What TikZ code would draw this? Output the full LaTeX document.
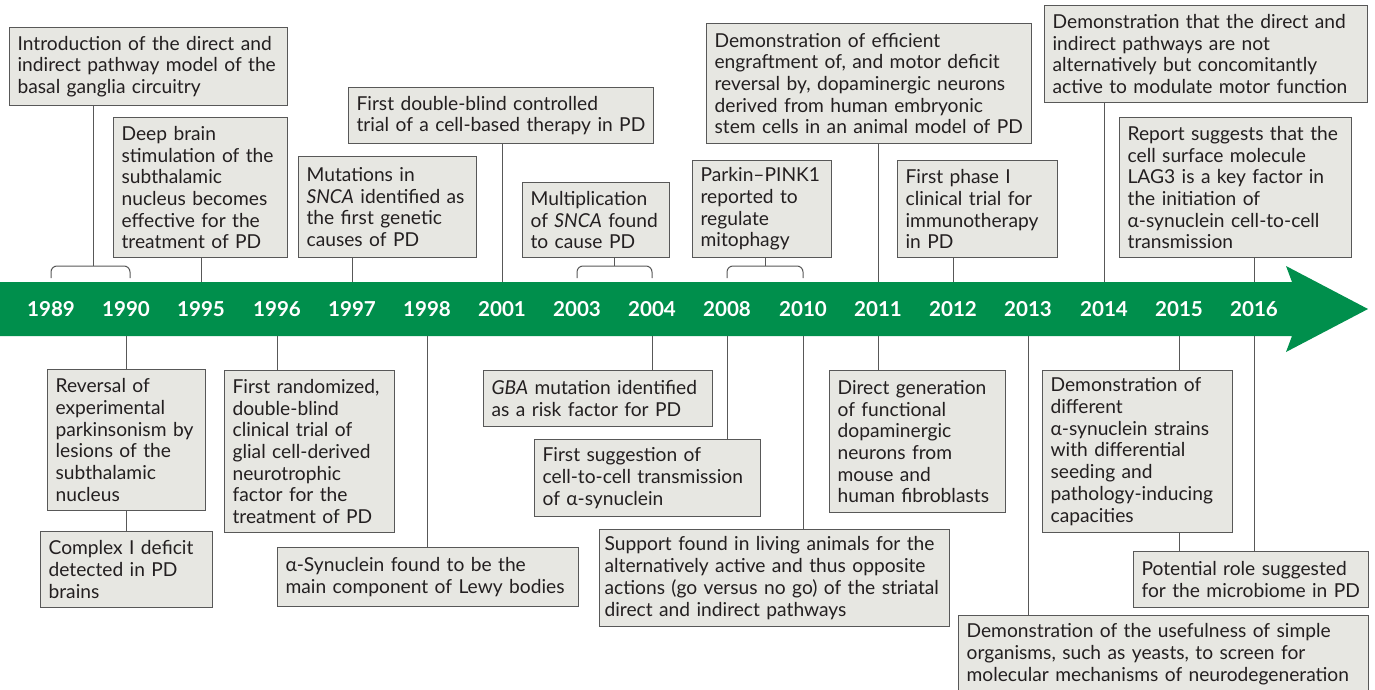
\documentclass[tikz,border=0pt]{standalone}
\usepackage{fontspec}
\setmainfont{Lato}
\usetikzlibrary{calc}

\definecolor{pdgreen}{RGB}{0,143,76}
\definecolor{boxfill}{RGB}{231,231,226}
\definecolor{boxline}{RGB}{88,88,88}
\definecolor{txtgrey}{RGB}{35,31,32}

\tikzset{
    evbox/.style={draw=boxline, line width=0.6pt, fill=boxfill, anchor=north west,
        align=left, inner xsep=4pt, inner ysep=0pt, text=txtgrey,
        font=\fontsize{9.6}{10.85}\selectfont},
    yearlbl/.style={text=white, font=\bfseries\fontsize{10.3}{12}\selectfont},
    conn/.style={draw=boxline, line width=0.5pt},
    bracket/.style={conn, rounded corners=3pt},
}

\begin{document}
\begin{tikzpicture}[x=0.5pt, y=-0.5pt]
    \useasboundingbox (0,0) rectangle (1375,690);

    % Draw timeline arrow
    \fill[pdgreen] (0,282) -- (1292,282) -- (1286,266) -- (1368,309)
        -- (1286,352) -- (1292,336) -- (0,336) -- cycle;
    \coordinate (bandtop) at (0,282);
    \coordinate (bandbot) at (0,336);
    \coordinate (brtop) at (0,266);
    \coordinate (brbot) at (0,278);

    % Years
    \node[yearlbl] (y1989) at (51,309) {1989};
    \node[yearlbl] (y1990) at (126,309) {1990};
    \node[yearlbl] (y1995) at (201,309) {1995};
    \node[yearlbl] (y1996) at (277,309) {1996};
    \node[yearlbl] (y1997) at (352,309) {1997};
    \node[yearlbl] (y1998) at (427,309) {1998};
    \node[yearlbl] (y2001) at (502,309) {2001};
    \node[yearlbl] (y2003) at (577,309) {2003};
    \node[yearlbl] (y2004) at (652,309) {2004};
    \node[yearlbl] (y2008) at (727,309) {2008};
    \node[yearlbl] (y2010) at (803,309) {2010};
    \node[yearlbl] (y2011) at (878,309) {2011};
    \node[yearlbl] (y2012) at (953,309) {2012};
    \node[yearlbl] (y2013) at (1028,309) {2013};
    \node[yearlbl] (y2014) at (1104,309) {2014};
    \node[yearlbl] (y2015) at (1179,309) {2015};
    \node[yearlbl] (y2016) at (1254,309) {2016};

    % Events above the arrow
    \node[evbox, text width=131pt, minimum height=39pt] (intro) at (9,27)
        {Introduction of the direct and\\indirect pathway model of the\\basal ganglia circuitry};
    \node[evbox, text width=79pt, minimum height=70pt] (dbs) at (113,117)
        {Deep brain\\stimulation of the\\subthalamic\\nucleus becomes\\effective for the\\treatment of PD};
    \node[evbox, text width=144.5pt, minimum height=28pt] (celltrial) at (348,87)
        {First double-blind controlled\\trial of a cell-based therapy in PD};
    \node[evbox, text width=81pt, minimum height=50.5pt] (sncamut) at (298,156)
        {Mutations in\\\textit{SNCA} identified as\\the first genetic\\causes of PD};
    \node[evbox, text width=65.5pt, minimum height=37.5pt] (sncamult) at (522,182)
        {Multiplication\\of \textit{SNCA} found\\to cause PD};
    \node[evbox, text width=61.5pt, minimum height=48.5pt] (parkin) at (692,160)
        {Parkin–PINK1\\reported to\\regulate\\mitophagy};
    \node[evbox, text width=154.5pt, minimum height=60pt] (engraft) at (706,23)
        {Demonstration of efficient\\engraftment of, and motor deficit\\reversal by, dopaminergic neurons\\derived from human embryonic\\stem cells in an animal model of PD};
    \node[evbox, text width=72pt, minimum height=48.5pt] (immuno) at (897,160)
        {First phase I\\clinical trial for\\immunotherapy\\in PD};
    \node[evbox, text width=153.5pt, minimum height=48.5pt] (concom) at (1044,5)
        {Demonstration that the direct and\\indirect pathways are not\\alternatively but concomitantly\\active to modulate motor function};
    \node[evbox, text width=108pt, minimum height=70pt] (lag) at (1119,117)
        {Report suggests that the\\cell surface molecule\\LAG3 is a key factor in\\the initiation of\\α-synuclein cell-to-cell\\transmission};

    % Events below the arrow
    \node[evbox, text width=71pt, minimum height=70.5pt] (lesion) at (47,369)
        {Reversal of\\experimental\\parkinsonism by\\lesions of the\\subthalamic\\nucleus};
    \node[evbox, text width=78pt, minimum height=38pt] (complex) at (40,531)
        {Complex I deficit\\detected in PD\\brains};
    \node[evbox, text width=77pt, minimum height=81pt] (gdnf) at (224,370)
        {First randomized,\\double-blind\\clinical trial of\\glial cell-derived\\neurotrophic\\factor for the\\treatment of PD};
    \node[evbox, text width=142.5pt, minimum height=29.5pt] (lewy) at (277,547)
        {α-Synuclein found to be the\\main component of Lewy bodies};
    \node[evbox, text width=106.5pt, minimum height=28pt] (gba) at (483,370)
        {\textit{GBA} mutation identified\\as a risk factor for PD};
    \node[evbox, text width=105pt, minimum height=38.5pt] (spread) at (534,439)
        {First suggestion of\\cell-to-cell transmission\\of α-synuclein};
    \node[evbox, inner xsep=2.5pt, text width=170pt, minimum height=48.5pt] (gonogo) at (599,529)
        {Support found in living animals for the\\alternatively active and thus opposite\\actions (go versus no go) of the striatal\\direct and indirect pathways};
    \node[evbox, text width=80pt, minimum height=71pt] (fibro) at (829,370)
        {Direct generation\\of functional\\dopaminergic\\neurons from\\mouse and\\human fibroblasts};
    \node[evbox, text width=87pt, minimum height=81pt] (strains) at (1042,370)
        {Demonstration of\\different\\α-synuclein strains\\with differential\\seeding and\\pathology-inducing\\capacities};
    \node[evbox, text width=109.5pt, minimum height=28pt] (microb) at (1133,551)
        {Potential role suggested\\for the microbiome in PD};
    \node[evbox, text width=197pt, minimum height=38.5pt] (yeast) at (958,615)
        {Demonstration of the usefulness of simple\\organisms, such as yeasts, to screen for\\molecular mechanisms of neurodegeneration};

    % Brackets for paired years
    \coordinate (br1) at ($(y1989)!0.56!(y1990)$);
    \coordinate (br2) at ($(y2003)!0.5!(y2004)$);
    \coordinate (br3) at ($(y2008)!0.5!(y2010)$);
    \draw[bracket] (y1989 |- brbot) |- ([xshift=2pt]y1990 |- brtop) -- ([xshift=2pt]y1990 |- brbot);
    \draw[bracket] (y2003 |- brbot) |- (y2004 |- brtop) -- (y2004 |- brbot);
    \draw[bracket] (y2008 |- brbot) |- (y2010 |- brtop) -- (y2010 |- brbot);

    % Connectors above
    \draw[conn] (br1 |- intro.south) -- (br1 |- brtop);
    \draw[conn] (br2 |- sncamult.south) -- (br2 |- brtop);
    \draw[conn] (br3 |- parkin.south) -- (br3 |- brtop);
    \draw[conn] (y1995 |- dbs.south) -- (y1995 |- bandtop);
    \draw[conn] (y1997 |- sncamut.south) -- (y1997 |- bandtop);
    \draw[conn] (y2001 |- celltrial.south) -- (y2001 |- bandtop);
    \draw[conn] (y2011 |- engraft.south) -- (y2011 |- bandtop);
    \draw[conn] (y2012 |- immuno.south) -- (y2012 |- bandtop);
    \draw[conn] (y2014 |- concom.south) -- (y2014 |- bandtop);
    \draw[conn] (y2016 |- lag.south) -- (y2016 |- bandtop);

    % Connectors below
    \draw[conn] (y1990 |- bandbot) -- (y1990 |- lesion.north);
    \draw[conn] (y1990 |- lesion.south) -- (y1990 |- complex.north);
    \draw[conn] (y1996 |- bandbot) -- (y1996 |- gdnf.north);
    \draw[conn] (y1998 |- bandbot) -- (y1998 |- lewy.north);
    \draw[conn] (y2004 |- bandbot) -- (y2004 |- gba.north);
    \draw[conn] (y2008 |- bandbot) -- (y2008 |- spread.north);
    \draw[conn] (y2010 |- bandbot) -- (y2010 |- gonogo.north);
    \draw[conn] (y2011 |- bandbot) -- (y2011 |- fibro.north);
    \draw[conn] (y2013 |- bandbot) -- (y2013 |- yeast.north);
    \draw[conn] (y2015 |- bandbot) -- (y2015 |- strains.north);
    \draw[conn] (y2015 |- strains.south) -- (y2015 |- microb.north);
    \draw[conn] (y2016 |- bandbot) -- (y2016 |- microb.north);

\end{tikzpicture}
\end{document}
